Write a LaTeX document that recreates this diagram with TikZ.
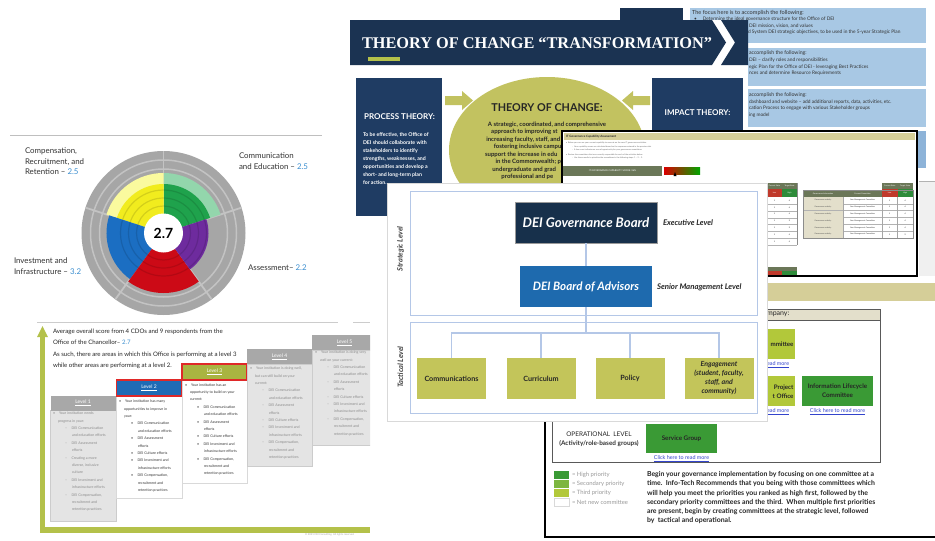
\documentclass[tikz,border=0pt]{standalone}
\usepackage{fontspec}
\setmainfont{Lato}
\newfontfamily\titleserif{Liberation Serif}
\newcommand{\fsz}[2]{\fontsize{#1}{#2}\selectfont}
\newcommand{\lvA}{\hspace*{5pt}}
\newcommand{\lvB}{\hspace*{12pt}–\hspace{4.5pt}}
\newcommand{\lvD}{\hspace*{12pt}•\hspace{4.5pt}}
\newcommand{\lvC}{\hspace*{19pt}}
\definecolor{navy}{HTML}{1B3352}
\definecolor{navyb}{HTML}{1F3C63}
\definecolor{olive}{HTML}{C2C260}
\definecolor{lime}{HTML}{B4C14A}
\definecolor{ltblue}{HTML}{A8C8E4}
\definecolor{midblue}{HTML}{8DB3D8}
\definecolor{frameblue}{HTML}{B4C7E7}
\definecolor{govnavy}{HTML}{17304B}
\definecolor{advblue}{HTML}{1E6AAE}
\definecolor{tacolive}{HTML}{C3C55A}
\definecolor{tanbar}{HTML}{D5CE98}
\definecolor{tanlt}{HTML}{E3DFCB}
\definecolor{itolive}{HTML}{6B7758}
\definecolor{lowred}{HTML}{C0392B}
\definecolor{highgreen}{HTML}{2E8B3A}
\definecolor{prio1}{HTML}{3A9A35}
\definecolor{prio2}{HTML}{7DB640}
\definecolor{prio3}{HTML}{B2C83A}
\definecolor{linkblue}{HTML}{3344CC}
\definecolor{scoreblue}{HTML}{3A8ED0}
\definecolor{lvgray}{HTML}{A8A8A8}
\definecolor{lvbody}{HTML}{E4E4E4}
\definecolor{lvtext}{HTML}{8A8A8A}
\definecolor{lvtwo}{HTML}{1F6BB5}
\definecolor{lvthree}{HTML}{A9B441}
\definecolor{redline}{HTML}{E02828}
\definecolor{rgray}{HTML}{A6A6A6}
\definecolor{rring}{HTML}{C3C3C3}
\definecolor{sgreen}{HTML}{1FA24C}
\definecolor{sgreenlt}{HTML}{93D6AC}
\definecolor{syellow}{HTML}{F1EC1E}
\definecolor{syellowlt}{HTML}{FAFA9E}
\definecolor{sblue}{HTML}{1B6EC2}
\definecolor{sred}{HTML}{CC0A16}
\definecolor{spurple}{HTML}{6E2B9E}
\begin{document}
\begin{tikzpicture}[x=1pt,y=-1pt, every node/.style={inner sep=0pt, outer sep=0pt},
  conn/.style={draw=frameblue, line width=1.1},
  lvhead/.style={minimum width=65, minimum height=15, text=white, font=\fsz{5}{6}},
  lvtxt/.style={anchor=north west, align=left, font=\fsz{3.6}{7.4}},
  tac/.style={fill=tacolive, minimum width=69, minimum height=41, align=center, text=black!85, font=\bfseries\fsz{7.2}{9}},
  link/.style={text=linkblue, font=\fsz{5.4}{6}},
  bluetxt/.style={anchor=west, text=black!80, font=\fsz{4.8}{5}},
  tinytxt/.style={anchor=west, text=black!60, font=\fsz{2}{2.4}},
  cell/.style={font=\fsz{1.9}{2.2}},
  radlbl/.style={anchor=north west, align=left, text=black!80, font=\fsz{7.9}{10.5}},
]
\useasboundingbox (0,0) rectangle (935,541);
\fill[white] (0,0) rectangle (935,541);

% ================= radar slide =================
\draw[black!25, line width=0.6] (10,135) -- (322,135);
\begin{scope}[shift={(163.5,233)}, yscale=-1]
 \fill[rgray] (0,0) circle[radius=82];
 \foreach \r in {73,64} \draw[rring, line width=1.5] (0,0) circle[radius=\r];
 \foreach \a in {90,18,-54,-126,162} \draw[rring, line width=1.8] (0,0) -- (\a:82);
 \fill[sgreenlt] (0,0) -- (18:60) arc[start angle=18, end angle=90, radius=60] -- cycle;
 \fill[sgreen] (0,0) -- (18:49) arc[start angle=18, end angle=90, radius=49] -- cycle;
 \fill[syellowlt] (0,0) -- (90:60) arc[start angle=90, end angle=162, radius=60] -- cycle;
 \fill[syellow] (0,0) -- (90:49) arc[start angle=90, end angle=162, radius=49] -- cycle;
 \fill[sblue] (0,0) -- (162:57) arc[start angle=162, end angle=234, radius=57] -- cycle;
 \fill[sred] (0,0) -- (234:60) arc[start angle=234, end angle=306, radius=60] -- cycle;
 \fill[spurple] (0,0) -- (306:45) arc[start angle=306, end angle=378, radius=45] -- cycle;
 \foreach \r in {27,35,43} \draw[black, opacity=0.12, line width=1.2] (0,0) circle[radius=\r];
 \fill[white] (0,0) circle[radius=19.5];
 \node[font=\bfseries\fsz{14}{16}] (score) at (0,0) {2.7};
\end{scope}
\node[radlbl] (lcomp) at (25,148) {Compensation,\\Recruitment, and\\Retention – \textcolor{scoreblue}{2.5}};
\node[radlbl] (lcommu) at (239,153) {Communication\\and Education – \textcolor{scoreblue}{2.5}};
\node[radlbl] (linv) at (14,258) {Investment and\\Infrastructure – \textcolor{scoreblue}{3.2}};
\node[anchor=west, text=black!80, font=\fsz{7.9}{9}] (lass) at (248,268) {Assessment– \textcolor{scoreblue}{2.2}};

% ================= levels slide =================
\draw[black!20, line width=0.6] (37,322) -- (338,322);
\draw[black!20, line width=0.6] (353,322) -- (370,322);
\draw[lime, line width=5] (42.5,530) -- (42.5,336);
\fill[lime] (37,337) -- (48,337) -- (42.5,326) -- cycle;
\draw[lime, line width=6] (40,530) -- (370,530);
\node[anchor=north west, align=left, text=black!85, font=\fsz{6.1}{11.5}] (avg) at (53,329)
 {Average overall score from 4 CDOs and 9 respondents from the\\
  Office of the Chancellor– \textcolor{scoreblue}{2.7}\\
  As such, there are areas in which this Office is performing at a level 3\\
  while other areas are performing at a level 2.};
% level 1
\fill[lvbody] (50,410) rectangle (116,521);
\draw[black!20, line width=0.5] (50,410) rectangle (116,521);
\node[lvhead, fill=lvgray] (lv1) at (83,403) {\underline{Level 1}};
\node[lvtxt, text=lvtext] (lv1t) at (53,412) {•\hspace{4pt}Your institution needs\\\lvA progress in your:\\\lvB DEI Communication\\\lvC and education efforts\\\lvB DEI Assessment\\\lvC efforts\\\lvB Creating a more\\\lvC diverse, inclusive\\\lvC culture\\\lvB DEI Investment and\\\lvC infrastructure efforts\\\lvB DEI Compensation,\\\lvC recruitment and\\\lvC retention practices};
% level 2
\fill[white] (116,396) rectangle (182,498);
\draw[black!15, line width=0.5] (116,396) rectangle (182,498);
\node[lvhead, fill=lvtwo, draw=redline, line width=1.2, minimum height=16] (lv2) at (149,388) {\underline{Level 2}};
\node[lvtxt, text=black!80] (lv2t) at (119,400) {•\hspace{4pt}Your institution has many\\\lvA opportunities to improve in\\\lvA your:\\\lvD DEI Communication\\\lvC and education efforts\\\lvD DEI Assessment\\\lvC efforts\\\lvD DEI Culture efforts\\\lvD DEI Investment and\\\lvC infrastructure efforts\\\lvD DEI Compensation,\\\lvC recruitment and\\\lvC retention practices};
% level 3
\fill[white] (182,380) rectangle (247,483);
\draw[black!15, line width=0.5] (182,380) rectangle (247,483);
\node[lvhead, fill=lvthree, draw=redline, line width=1.2, minimum height=16] (lv3) at (214.5,372) {\underline{Level 3}};
\node[lvtxt, text=black!80] (lv3t) at (185,383.5) {•\hspace{4pt}Your institution has an\\\lvA opportunity to build on your\\\lvA current:\\\lvD DEI Communication\\\lvC and education efforts\\\lvD DEI Assessment\\\lvC efforts\\\lvD DEI Culture efforts\\\lvD DEI Investment and\\\lvC infrastructure efforts\\\lvD DEI Compensation,\\\lvC recruitment and\\\lvC retention practices};
% level 4
\fill[lvbody] (247,364) rectangle (312,466);
\draw[black!20, line width=0.5] (247,364) rectangle (312,466);
\node[lvhead, fill=lvgray] (lv4) at (279.5,356.5) {\underline{Level 4}};
\node[lvtxt, text=lvtext] (lv4t) at (250,367) {•\hspace{4pt}Your institution is doing well,\\\lvA but can still build on your\\\lvA current:\\\lvB DEI Communication\\\lvC and education efforts\\\lvB DEI Assessment\\\lvC efforts\\\lvB DEI Culture efforts\\\lvB DEI Investment and\\\lvC infrastructure efforts\\\lvB DEI Compensation,\\\lvC recruitment and\\\lvC retention practices};
% level 5
\begin{scope}
\clip (305,330) rectangle (370,450);
\fill[lvbody] (312,350) rectangle (380,445);
\draw[black!20, line width=0.5] (312,350) rectangle (380,445);
\node[lvhead, fill=lvgray] (lv5) at (344.5,342.5) {\underline{Level 5}};
\node[lvtxt, text=lvtext] (lv5t) at (315,351) {•\hspace{4pt}Your institution is doing very\\\lvA well on your current:\\\lvB DEI Communication\\\lvC and education efforts\\\lvB DEI Assessment\\\lvC efforts\\\lvB DEI Culture efforts\\\lvB DEI Investment and\\\lvC infrastructure efforts\\\lvB DEI Compensation,\\\lvC recruitment and\\\lvC retention practices};
\end{scope}
\node[anchor=west, text=black!35, font=\fsz{2.6}{3}] (copy) at (305,534.5) {© 2021 DEI Consulting. All rights reserved.};

% ================= blue slide (top right) =================
\fill[navy] (620,8) rectangle (683,20);
\fill[ltblue] (690,8) rectangle (926,43);
\fill[ltblue] (690,48) rectangle (926,86);
\fill[ltblue] (690,89) rectangle (926,127);
\fill[midblue] (690,131) rectangle (926,168);
\draw[black!30, line width=0.8] (919,181) -- (935,181);
\fill[black!6] (919,182) rectangle (935,276);
\node[bluetxt, font=\fsz{5.6}{6}] (b1a) at (692,12.5) {The focus here is to accomplish the following:};
\node[bluetxt] (b1b) at (694,19) {•\hspace{6pt}Determine the ideal governance structure for the Office of DEI};
\node[bluetxt] (b1c) at (749,26) {DEI mission, vision, and values};
\node[bluetxt] (b1d) at (748,32.5) {d System DEI strategic objectives, to be used in the 5-year Strategic Plan};
\node[bluetxt, font=\fsz{5.2}{6}] (b2a) at (749,53.5) {accomplish the following:};
\node[bluetxt] (b2b) at (749,60.5) {DEI – clarify roles and responsibilities};
\node[bluetxt] (b2c) at (749,67) {egic Plan for the Office of DEI - leveraging Best Practices};
\node[bluetxt] (b2d) at (749,73.5) {nces and determine Resource Requirements};
\node[bluetxt, font=\fsz{5.2}{6}] (b3a) at (749,95) {accomplish the following:};
\node[bluetxt] (b3b) at (749,102) {dashboard and website – add additional reports, data, activities, etc.};
\node[bluetxt] (b3c) at (749,108.5) {cation Process to engage with various Stakeholder groups};
\node[bluetxt] (b3d) at (749,115) {ing model};

% ================= theory of change slide =================
\fill[white] (348,20) rectangle (748,216);
\fill[navy] (350,20) -- (712,20) -- (726,42.5) -- (712,65) -- (350,65) -- cycle;
\fill[navy] (721,20) -- (748,20) -- (748,65) -- (721,65) -- (735,42.5) -- cycle;
\node[anchor=west, text=white, font=\titleserif\bfseries\fsz{16.3}{17}] (toctitle) at (362,43) {THEORY OF CHANGE “TRANSFORMATION”};
\fill[lime] (368,57) rectangle (400,61);
\fill[navyb] (356,78) rectangle (442,216);
\node[text=white, font=\bfseries\fsz{8}{9}] (proct) at (399.5,117) {PROCESS THEORY:};
\node[anchor=north west, align=left, text=white, font=\bfseries\fsz{5.2}{7.9}] (procb) at (363,133)
 {To be effective, the Office of\\DEI should collaborate with\\stakeholders to identify\\strengths, weaknesses, and\\opportunities and develop a\\short- and long-term plan\\for action.};
\fill[olive] (547,150) ellipse[x radius=98, y radius=73];
\fill[olive] (445,96) -- (462,96) -- (462,91) -- (473,100.5) -- (462,110) -- (462,105) -- (445,105) -- cycle;
\fill[olive] (650,96) -- (633,96) -- (633,91) -- (622,100.5) -- (633,110) -- (633,105) -- (650,105) -- cycle;
\node[text=black!85, font=\bfseries\fsz{10.8}{11}] (toct) at (547,108) {THEORY OF CHANGE:};
\node[anchor=north, align=center, text=black!85, font=\bfseries\fsz{6}{7.5}] (tocb) at (547,122)
 {A strategic, coordinated, and comprehensive\\
  approach to improving st\phantom{udent success by}\\
  increasing faculty, staff, and st\phantom{udent diversity,}\\
  fostering inclusive campus \phantom{climates, and}\\
  support the increase in edu\phantom{cational attainment}\\
  in the Commonwealth; prep\phantom{aring more}\\
  undergraduate and grad\phantom{uate students for}\\
  professional and pe\phantom{rsonal success.}};
\fill[navyb] (652,78) rectangle (743,216);
\node[text=white, font=\bfseries\fsz{8}{9}] (impt) at (697.5,113) {IMPACT THEORY:};

% ================= IT governance slide =================
\fill[white] (562,131) rectangle (917,276);
\fill[tanbar] (564,133) rectangle (915,140);
\node[anchor=west, text=black!85, font=\bfseries\fsz{3}{3.5}] (itt) at (566,136.5) {IT Governance Capability Assessment};
\node[tinytxt] (it1) at (566,143) {•\ \ Below you can see your current capability to execute on the core IT governance activities.};
\node[tinytxt] (it2) at (572,146.5) {–\ \ Your capability scores are calculated based on the responses entered in the previous tab.};
\node[tinytxt] (it3) at (572,150) {–\ \ A low score indicates an area of opportunity for your governance committees.};
\node[tinytxt] (it4) at (566,154.5) {•\ \ Review the committees that are currently responsible for each of the activities below.};
\node[tinytxt] (it5) at (572,158) {–\ \ Use these results to prioritize the committees in the following steps: 1 – 2 – 3.};
\fill[itolive] (563,166) rectangle (662,176);
\node[text=white, font=\fsz{2.4}{3}] (itscore) at (612.5,171) {IT GOVERNANCE CAPABILITY SCORE: 36\%};
\shade[left color=red!85!black, middle color=yellow!90!orange, right color=green!65!black] (664,167) rectangle (700,174);
\fill[black] (673.5,176) -- (676.5,176) -- (675,172) -- cycle;
% right table
\fill[itolive] (882,183) rectangle (913,189);
\node[cell, text=white] (rtcs) at (889.7,186) {Current State};
\node[cell, text=white] (rtts) at (905.2,186) {Target State};
\fill[lowred] (882,189) rectangle (897.5,197);
\fill[highgreen] (897.5,189) rectangle (913,197);
\node[cell, text=white] (rtlow) at (889.7,193) {Low};
\node[cell, text=white] (rthigh) at (905.2,193) {High};
\fill[itolive] (803,190) rectangle (882,197);
\node[cell, text=white] (rtgi) at (823,193.5) {Governance Information};
\node[cell, text=white] (rtcc) at (862.5,193.5) {Current Committee};
\foreach \i/\t in {0/4,1/4,2/4,3/4,4/4,5/2}{
  \pgfmathsetmacro{\ya}{197+\i*6.8}
  \pgfmathsetmacro{\yb}{\ya+6.8}
  \pgfmathsetmacro{\ym}{\ya+3.4}
  \fill[tanlt] (803,\ya) rectangle (843,\yb);
  \draw[black!30, line width=0.3] (803,\yb) -- (913,\yb);
  \node[cell, text=black!70] (rtd\i) at (823,\ym) {Governance activity};
  \node[cell, text=black!80] (rtc\i) at (862.5,\ym) {Your Management Committee};
  \node[cell] (rtn\i) at (889.7,\ym) {1};
  \node[cell] (rtv\i) at (905.2,\ym) {\t};
}
\draw[black!45, line width=0.4] (803,190) rectangle (913,238);
\foreach \xx in {843,882,897.5} \draw[black!35, line width=0.3] (\xx,197) -- (\xx,238);
% left table
\fill[itolive] (767,183) rectangle (797,189);
\node[cell, text=white] (ltcs) at (774.5,186) {Current State};
\node[cell, text=white] (ltts) at (789.5,186) {Target State};
\fill[lowred] (767,189) rectangle (782,197);
\fill[highgreen] (782,189) rectangle (797,197);
\node[cell, text=white] (ltlow) at (774.5,193) {Low};
\node[cell, text=white] (lthigh) at (789.5,193) {High};
\foreach \i/\t in {0/4,1/4,2/4,3/3,4/3,5/4,6/4}{
  \pgfmathsetmacro{\ya}{197+\i*6.9}
  \pgfmathsetmacro{\yb}{\ya+6.9}
  \pgfmathsetmacro{\ym}{\ya+3.45}
  \draw[black!30, line width=0.3] (767,\yb) -- (797,\yb);
  \node[cell] (ltn\i) at (774.5,\ym) {1};
  \node[cell] (ltv\i) at (789.5,\ym) {\t};
}
\draw[black!45, line width=0.4] (797,183) -- (797,245);
\fill[itolive] (767,267) rectangle (797,271);
\fill[lowred] (767,271) rectangle (782,275);
\fill[highgreen] (782,271) rectangle (797,275);
\draw[black, line width=2] (562,131) rectangle (917,276);

% ================= bottom right slide =================
\fill[white] (545,277) rectangle (935,537);
\draw[black, line width=2] (545,277) -- (545,537) -- (935,537);
\fill[tanbar] (765,283) rectangle (935,301);
\fill[tanlt] (552,309) rectangle (880,320);
\draw[black!65, line width=0.8] (552,309) rectangle (880,462);
\draw[black!65, line width=0.8] (552,320) -- (880,320);
\node[anchor=west, text=black!85, font=\fsz{7}{7}] (comp) at (767,314.5) {mpany:};
\fill[prio3] (762,329) rectangle (795,359);
\node[anchor=east, text=black!85, font=\bfseries\fsz{6.2}{6.5}] (steer) at (793.5,344) {mmittee};
\node[link, anchor=west] (lnk1) at (767,364.5) {\underline{ead more}};
\fill[prio3] (762,376) rectangle (795,406);
\node[anchor=east, align=right, text=black!85, font=\bfseries\fsz{6.2}{8.8}] (pmo) at (793.5,391.5) {Project\\t Office};
\node[link, anchor=west] (lnk2) at (767,411.5) {\underline{ead more}};
\node[fill=prio1, minimum width=71, minimum height=30, align=center, text=black!85, font=\bfseries\fsz{6.3}{9}] (ilc) at (837.5,391) {Information Lifecycle\\Committee};
\node[link] (lnk3) at (837.5,411.5) {\underline{Click here to read more}};
\node[text=black!85, font=\fsz{6.4}{7}] (oplvl) at (599,434) {OPERATIONAL\ \ LEVEL};
\node[text=black!80, font=\bfseries\fsz{6.4}{7}] (opsub) at (599,443.5) {(Activity/role-based groups)};
\node[fill=prio1, minimum width=71, minimum height=29, text=black!85, font=\bfseries\fsz{6.3}{7}] (svc) at (681.5,438.5) {Service Group};
\node[link] (lnk4) at (681.5,458.5) {\underline{Click here to read more}};
\fill[prio1] (554,471) rectangle (569,479);
\fill[prio2] (554,480) rectangle (569,488);
\fill[prio3] (554,489) rectangle (569,497);
\draw[black!15, line width=0.5] (554,498) rectangle (569,506);
\node[anchor=west, text=black!40, font=\fsz{5.9}{6}] (lg1) at (572,475) {= High priority};
\node[anchor=west, text=black!40, font=\fsz{5.9}{6}] (lg2) at (572,484) {= Secondary priority};
\node[anchor=west, text=black!40, font=\fsz{5.9}{6}] (lg3) at (572,493) {= Third priority};
\node[anchor=west, text=black!40, font=\fsz{5.9}{6}] (lg4) at (572,502) {= Net new committee};
\node[anchor=north west, align=left, text=black!85, font=\bfseries\fsz{6.9}{9.2}] (para) at (647,471.5)
 {Begin your governance implementation by focusing on one committee at a\\
  time.\ \ Info-Tech Recommends that you being with those committees which\\
  will help you meet the priorities you ranked as high first, followed by the\\
  secondary priority committees and the third.\ \ When multiple first priorities\\
  are present, begin by creating committees at the strategic level, followed\\
  by\ \ tactical and operational.};

% ================= org chart slide =================
\fill[white] (387,183) rectangle (767,421);
\draw[black!15, line width=0.6] (387,183) rectangle (767,421);
\draw[frameblue, line width=1] (410,191) rectangle (757,315);
\draw[frameblue, line width=1] (410,322) rectangle (757,413);
\node[rotate=90, text=black!75, font=\bfseries\itshape\fsz{7.4}{8}] (stratl) at (400.5,249) {Strategic Level};
\node[rotate=90, text=black!75, font=\bfseries\itshape\fsz{7.4}{8}] (tactl) at (400.5,367) {Tactical Level};
\node[fill=govnavy, draw=black!40, line width=0.6, minimum width=142, minimum height=41, text=white, font=\bfseries\itshape\fsz{13.3}{14}] (gov) at (586,222.5) {DEI Governance Board};
\node[fill=advblue, minimum width=132, minimum height=41, text=white, font=\bfseries\itshape\fsz{11.6}{12}] (adv) at (586,286.5) {DEI Board of Advisors};
\node[anchor=west, text=black!85, font=\bfseries\itshape\fsz{7.8}{8}] (execl) at (663,223) {Executive Level};
\node[anchor=west, text=black!85, font=\bfseries\itshape\fsz{7.8}{8}] (senl) at (657,287) {Senior Management Level};
\node[tac] (comm) at (451.5,378.5) {Communications};
\node[tac] (curr) at (541,378.5) {Curriculum};
\node[tac] (pol) at (630,378.5) {Policy};
\node[tac, font=\bfseries\itshape\fsz{7}{9}] (eng) at (719,378.5) {Engagement\\(student, faculty,\\staff, and\\community)};
\coordinate (busm) at (586,333);
\draw[conn] (gov.south) -- (adv.north);
\draw[conn] (adv.south) -- (busm);
\draw[conn] (comm.north) -- (comm.north |- busm) -- (eng.north |- busm) -- (eng.north);
\draw[conn] (curr.north) -- (curr.north |- busm);
\draw[conn] (pol.north) -- (pol.north |- busm);
\end{tikzpicture}
\end{document}
